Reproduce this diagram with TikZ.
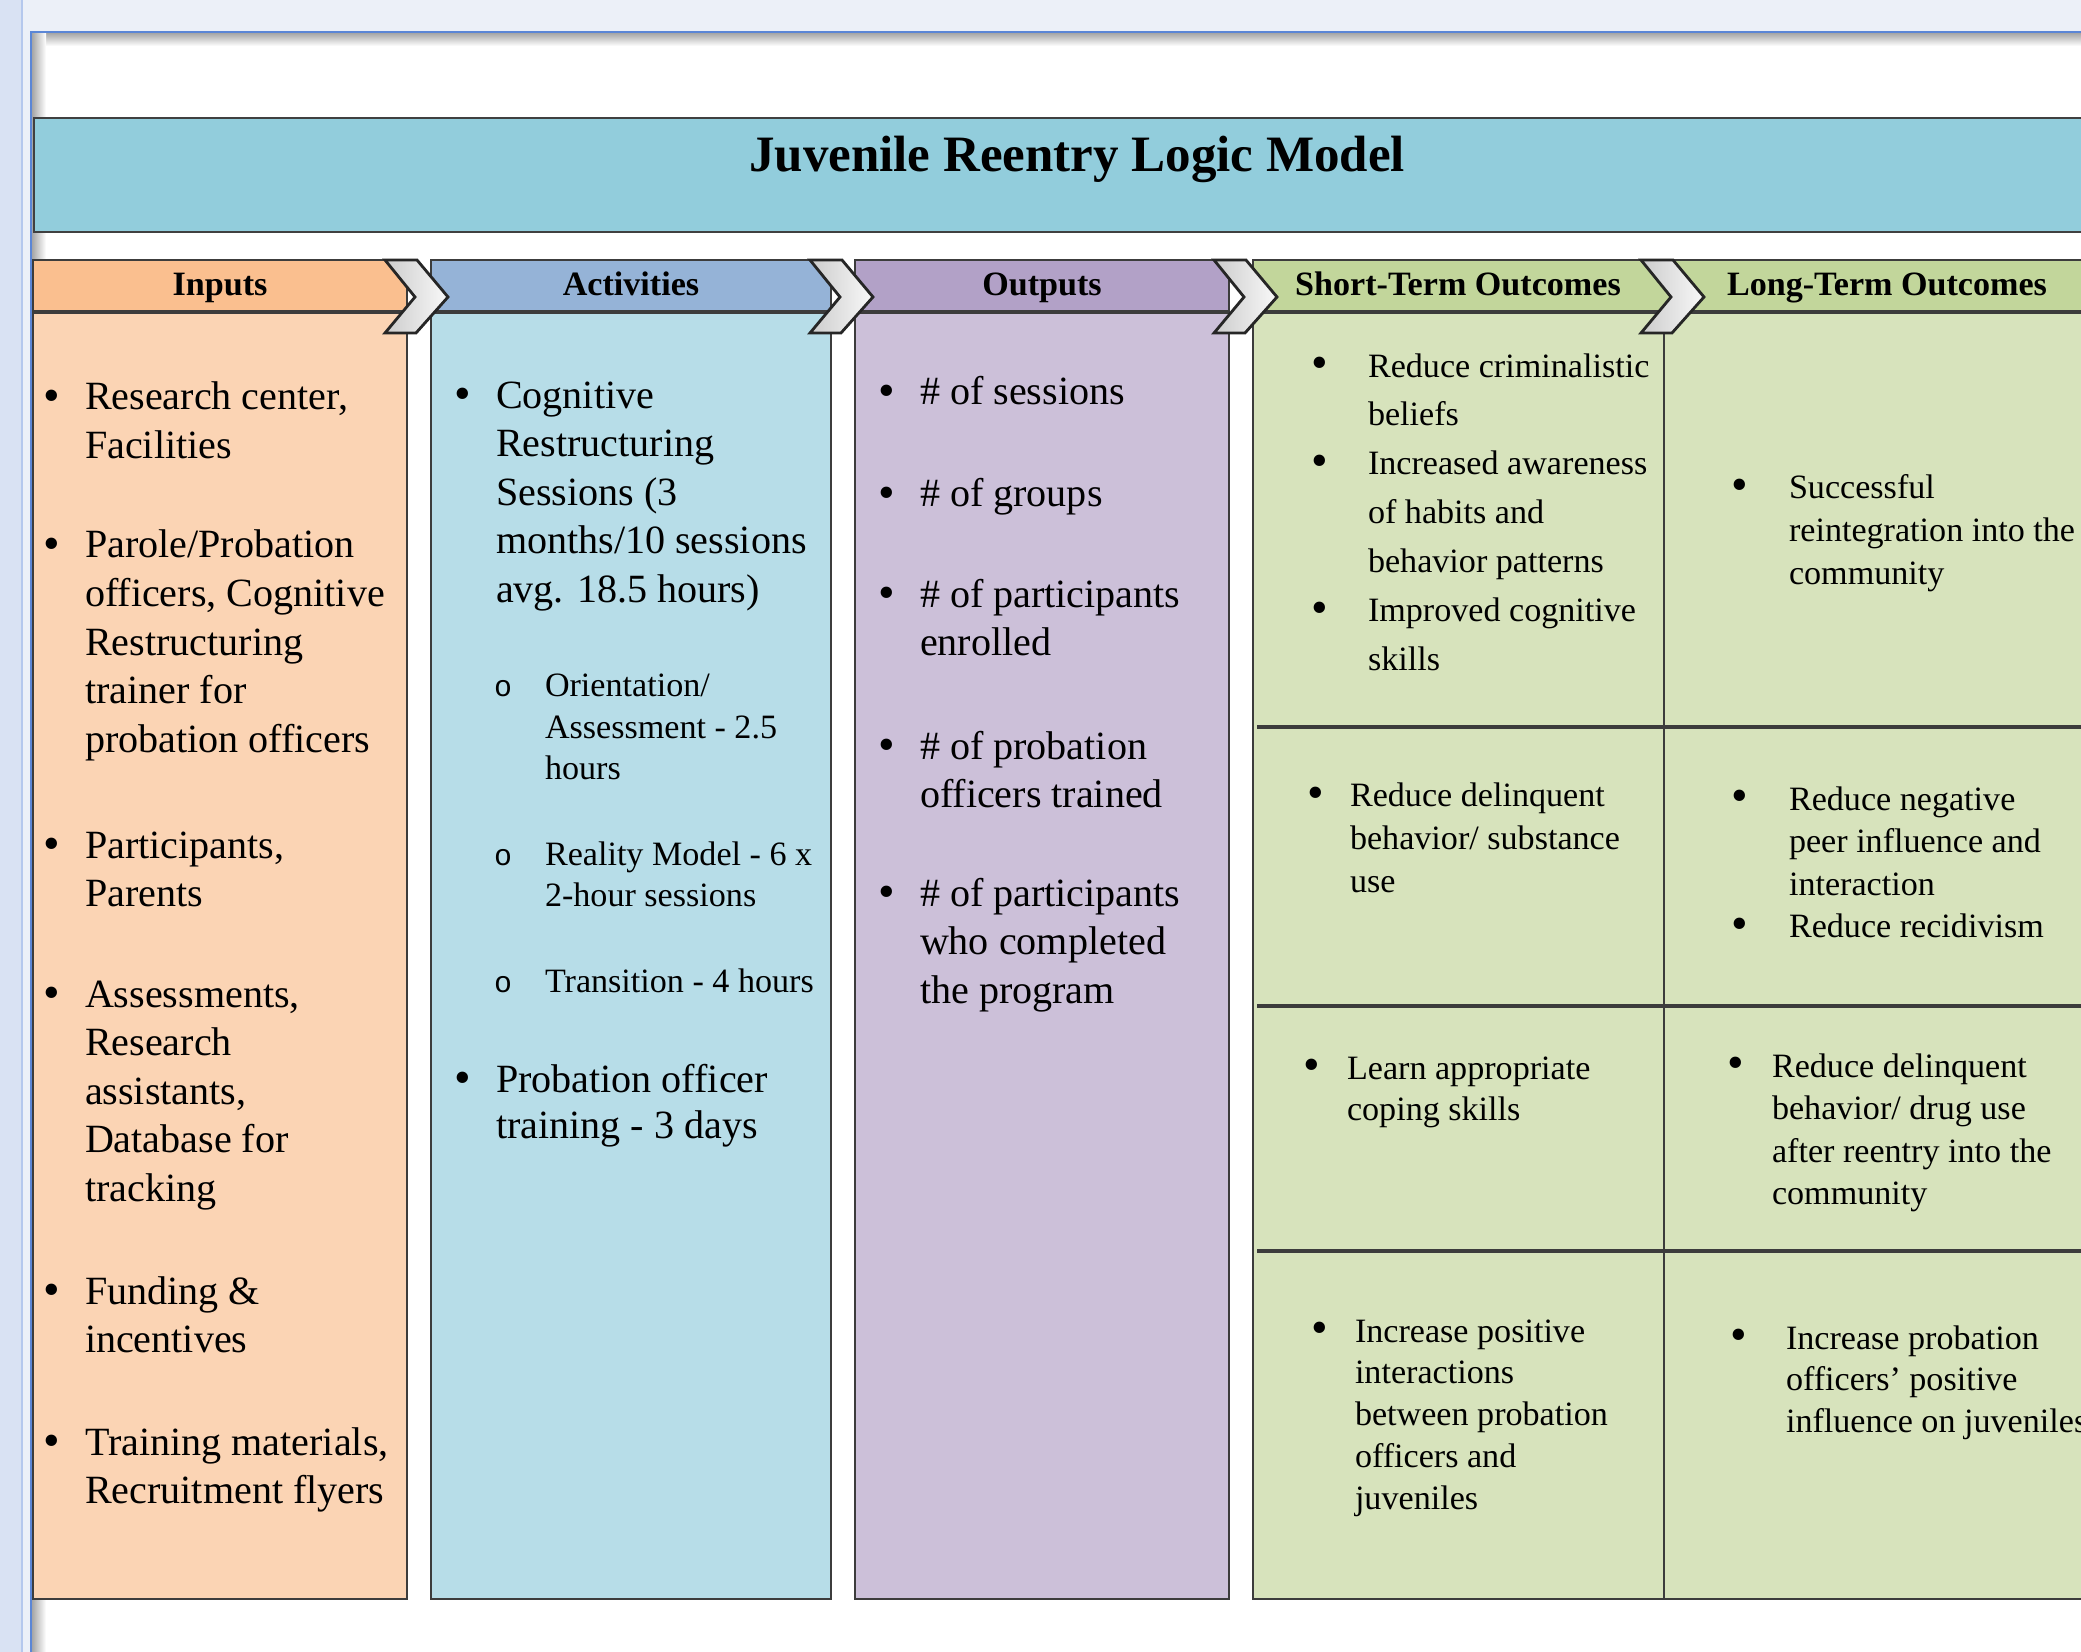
\documentclass[tikz,border=0pt]{standalone}
\usepackage{fontspec}
\setmainfont{Liberation Serif}
\setmonofont{Liberation Mono}
\usetikzlibrary{positioning}

\definecolor{winbg}{RGB}{236,240,248}
\definecolor{winstrip}{RGB}{217,226,243}
\definecolor{winedge}{RGB}{91,134,214}
\definecolor{titlefill}{RGB}{146,205,220}
\definecolor{inhead}{RGB}{250,191,143}
\definecolor{inbody}{RGB}{251,212,180}
\definecolor{acthead}{RGB}{149,179,215}
\definecolor{actbody}{RGB}{183,221,232}
\definecolor{outhead}{RGB}{178,161,199}
\definecolor{outbody}{RGB}{204,192,217}
\definecolor{ochead}{RGB}{194,214,155}
\definecolor{ocbody}{RGB}{215,227,188}
\definecolor{edge}{RGB}{60,60,60}

% bullets hung left of the line, with a strut so the first baseline is fixed
\newcommand{\bul}[1][0.25cm]{\rule{0pt}{9pt}\llap{\raisebox{-0.5pt}{\fontsize{13.5}{14}\selectfont\textbullet}\hspace{#1}}}
\newcommand{\sbul}{\rule{0pt}{9pt}\llap{{\fontsize{8.5}{9}\selectfont\texttt{o}}\hspace{0.33cm}}}

\begin{document}
\begin{tikzpicture}[
    x=0.01cm, y=-0.01cm,
    box/.style={draw=edge, line width=0.5pt},
    titletext/.style={anchor=base, inner sep=0pt, font=\fontsize{14.5}{17}\selectfont\bfseries},
    headtext/.style={anchor=base, inner sep=0pt, font=\fontsize{9.7}{12}\selectfont\bfseries},
    % first baseline sits on the given point
    listtext/.style={anchor=north west, yshift=9pt, align=left, inner sep=0pt, outer sep=0pt},
    bigtext/.style={listtext, font=\fontsize{11.4}{13.8}\selectfont},
    smalltext/.style={listtext, font=\fontsize{9.7}{12.1}\selectfont},
    chev/.style={draw=black!85, line width=0.8pt, left color=gray!40, right color=gray!5}
]
    \useasboundingbox (0,0) rectangle (2081,1652);
    \clip (0,0) rectangle (2081,1652);

    % window and page
    \fill[winbg] (0,0) rectangle (2081,1652);
    \fill[winstrip] (0,0) rectangle (22,1652);
    \draw[winedge!45, line width=0.6pt] (22,0) -- (22,1652);
    \fill[white] (31,32) rectangle (2081,1652);
    \shade[top color=black!35, bottom color=white] (32,33) rectangle (2081,46);
    \shade[left color=black!35, right color=white] (32,33) rectangle (46,1652);
    \draw[winedge, line width=0.6pt] (31,1652) -- (31,32) -- (2081,32);

    % title band
    \draw[fill=titlefill, draw=black!75, line width=0.7pt] (34,118) rectangle (2130,232);
    \node[titletext] (title) at (1077,172) {Juvenile Reentry Logic Model};

    % columns
    \draw[box, fill=inbody] (33,312) rectangle (407,1599);
    \draw[box, fill=inhead] (33,260) rectangle (407,312);
    \draw[box, fill=actbody] (431,312) rectangle (831,1599);
    \draw[box, fill=acthead] (431,260) rectangle (831,312);
    \draw[box, fill=outbody] (855,312) rectangle (1229,1599);
    \draw[box, fill=outhead] (855,260) rectangle (1229,312);
    \draw[box, fill=ocbody] (1253,312) rectangle (2130,1599);
    \draw[box, fill=ochead] (1253,260) rectangle (2130,312);
    \draw[edge, line width=0.9pt] (33,312) -- (407,312) (431,312) -- (831,312)
        (855,312) -- (1229,312) (1253,312) -- (2130,312);
    \draw[edge, line width=0.5pt] (1664,312) -- (1664,1599);
    \draw[edge, line width=1.1pt] (1257,727) -- (2130,727);
    \draw[edge, line width=1.1pt] (1257,1006) -- (2130,1006);
    \draw[edge, line width=1.1pt] (1257,1251) -- (2130,1251);

    % chevrons
    \draw[chev] (385,260) -- ++(32,0) -- ++(31,37) -- ++(-32,36) -- ++(-31,0) -- ++(30,-36) -- cycle;
    \draw[chev] (810,260) -- ++(32,0) -- ++(31,37) -- ++(-32,36) -- ++(-31,0) -- ++(30,-36) -- cycle;
    \draw[chev] (1214,260) -- ++(32,0) -- ++(31,37) -- ++(-32,36) -- ++(-31,0) -- ++(30,-36) -- cycle;
    \draw[chev] (1641,260) -- ++(32,0) -- ++(31,37) -- ++(-32,36) -- ++(-31,0) -- ++(30,-36) -- cycle;

    % headers
    \node[headtext] (hin) at (220,296) {Inputs};
    \node[headtext] (hact) at (631,296) {Activities};
    \node[headtext] (hout) at (1042,296) {Outputs};
    \node[headtext] (hst) at (1458,296) {Short-Term Outcomes};
    \node[headtext] (hlt) at (1887,296) {Long-Term Outcomes};

    % inputs
    \node[bigtext] (in1) at (85,410) {\bul Research center,\\Facilities};
    \node[bigtext] (in2) at (85,558) {\bul Parole/Probation\\officers, Cognitive\\Restructuring\\trainer for\\probation officers};
    \node[bigtext] (in3) at (85,858) {\bul Participants,\\Parents};
    \node[bigtext] (in4) at (85,1007) {\bul Assessments,\\Research\\assistants,\\Database for\\tracking};
    \node[bigtext] (in5) at (85,1304) {\bul Funding \&\\incentives};
    \node[bigtext] (in6) at (85,1455) {\bul Training materials,\\Recruitment flyers};

    % activities
    \node[bigtext] (act1) at (496,408) {\bul Cognitive\\Restructuring\\Sessions (3\\months/10 sessions\\avg. 18.5 hours)};
    \node[smalltext, font=\fontsize{9.7}{11.7}\selectfont] (act2) at (545,697) {\sbul Orientation/\\Assessment - 2.5\\hours};
    \node[smalltext, font=\fontsize{9.7}{11.7}\selectfont] (act3) at (545,865) {\sbul Reality Model - 6 x\\2-hour sessions};
    \node[smalltext] (act4) at (545,992) {\sbul Transition - 4 hours};
    \node[bigtext, font=\fontsize{11.4}{13.2}\selectfont] (act5) at (496,1092) {\bul Probation officer\\training - 3 days};

    % outputs
    \node[bigtext] (out1) at (920,405) {\bul\# of sessions};
    \node[bigtext] (out2) at (920,507) {\bul\# of groups};
    \node[bigtext] (out3) at (920,607) {\bul\# of participants\\enrolled};
    \node[bigtext] (out4) at (920,759) {\bul\# of probation\\officers trained};
    \node[bigtext] (out5) at (920,906) {\bul\# of participants\\who completed\\the program};

    % outcomes
    \node[smalltext, font=\fontsize{9.7}{13.9}\selectfont] (st1) at (1368,377) {\bul[0.40cm]Reduce criminalistic\\beliefs\\\bul[0.40cm]Increased awareness\\of habits and\\behavior patterns\\\bul[0.40cm]Improved cognitive\\skills};
    \node[smalltext] (lt1) at (1789,499) {\bul[0.41cm]Successful\\reintegration into the\\community};
    \node[smalltext] (st2) at (1350,807) {\bul[0.26cm]Reduce delinquent\\behavior/ substance\\use};
    \node[smalltext] (lt2) at (1789,810) {\bul[0.41cm]Reduce negative\\peer influence and\\interaction\\\bul[0.41cm]Reduce recidivism};
    \node[smalltext, font=\fontsize{9.7}{11.7}\selectfont] (st3) at (1347,1079) {\bul[0.27cm]Learn appropriate\\coping skills};
    \node[smalltext] (lt3) at (1772,1077) {\bul[0.28cm]Reduce delinquent\\behavior/ drug use\\after reentry into the\\community};
    \node[smalltext, font=\fontsize{9.7}{11.9}\selectfont] (st4) at (1355,1342) {\bul[0.27cm]Increase positive\\interactions\\between probation\\officers and\\juveniles};
    \node[smalltext, font=\fontsize{9.7}{11.9}\selectfont] (lt4) at (1786,1349) {\bul[0.39cm]Increase probation\\officers' positive\\influence on juveniles};
\end{tikzpicture}
\end{document}
